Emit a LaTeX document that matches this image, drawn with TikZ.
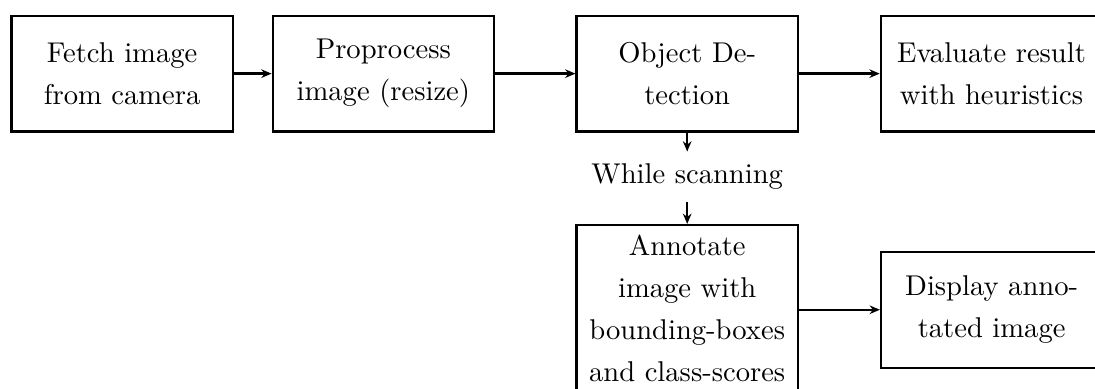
\documentclass[tikz,border=0pt]{standalone}
\usetikzlibrary{arrows.meta}
\begin{document}
\begin{tikzpicture}[x=1pt,y=-1pt,
  stagebox/.style={draw, line width=0.8pt, text width=70.7pt, align=center,
    inner sep=3.33pt, minimum height=40.5pt,
    font=\fontsize{10pt}{14.7pt}\selectfont},
  flow/.style={-{Stealth[length=3.6pt,width=3pt]}, line width=0.8pt}]
\useasboundingbox (0,0) rectangle (382.9,136);
\clip (0,0) rectangle (382.9,136);

% main pipeline
\node[stagebox] (fetch) at (42.7,25.75) {Fetch image\\from camera};
\node[stagebox] (prep)  at (134.05,25.75) {Proprocess\\image (resize)};
\node[stagebox] (detect) at (240.3,25.75) {Object De-\\tection};
\node[stagebox] (eval)  at (346.7,25.75) {Evaluate result\\with heuristics};

% branch taken while scanning
\node[inner sep=4.2pt, font=\fontsize{10pt}{14.7pt}\selectfont] (scan) at (240.3,61.9) {While scanning};
\node[stagebox, minimum height=0pt, anchor=north] (annot) at (240.3,78.3)
  {Annotate\\image with\\bounding-boxes\\and class-scores};
\node[stagebox, anchor=west] (show) at ([xshift=28.3pt,yshift=-0.6pt]annot.east) {Display anno-\\tated image};

\draw[flow] (fetch) -- (prep);
\draw[flow] (prep) -- (detect);
\draw[flow] (detect) -- (eval);
\draw[flow] (detect) -- (scan);
\draw[flow] (scan) -- (annot);
\draw[flow] (annot.east |- show.west) -- (show.west);
\end{tikzpicture}
\end{document}
